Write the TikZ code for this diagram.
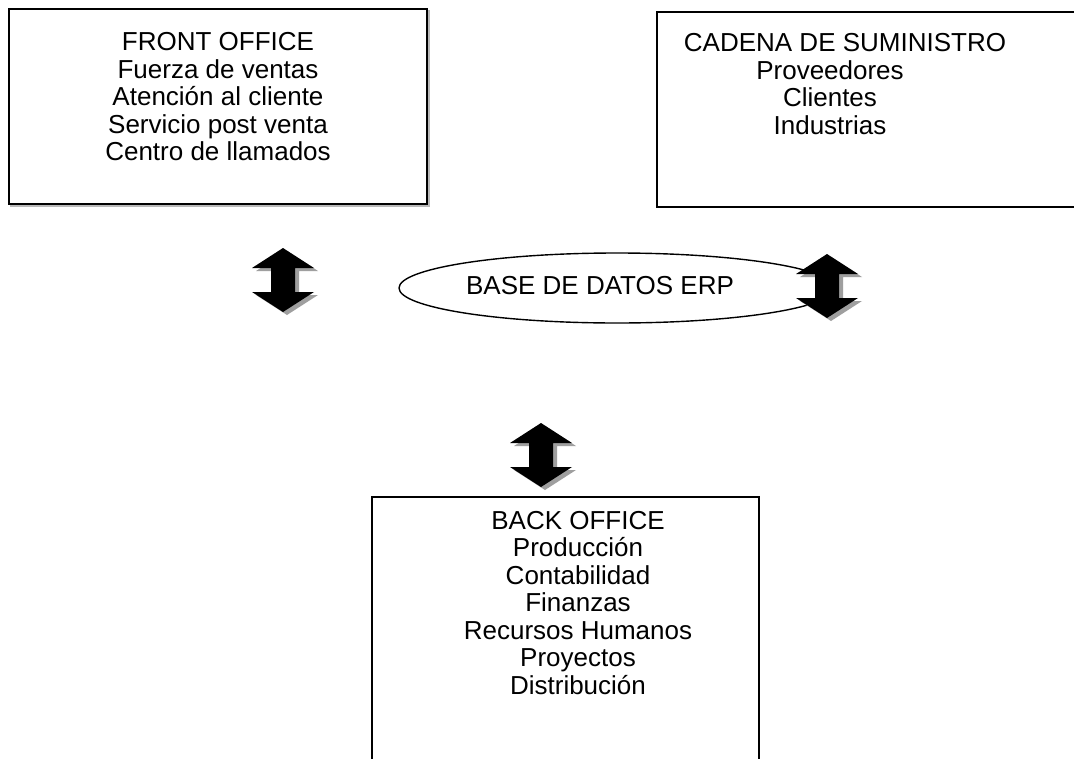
\documentclass[tikz,border=0pt]{standalone}
\usepackage{fontspec}
\setmainfont{Liberation Sans}
\usetikzlibrary{shapes.geometric}

\tikzset{
  box/.style={draw=black, line width=1.8pt},
  boxshade/.style={draw=gray!55, line width=1.8pt},
  label/.style={align=center, inner sep=0pt, font=\fontsize{26}{27.5}\selectfont},
  arrowbody/.style={fill=black},
  arrowshade/.style={fill=gray!75},
}

% vertical double-headed block arrow centred on a named coordinate
\newcommand\dualarrow[1]{%
  \fill[arrowshade, shift={(#1)}, xshift=4pt, yshift=-3pt]
    (0,-32) -- (31,-12) -- (12,-12) -- (12,12) -- (31,12) -- (0,32)
    -- (-31,12) -- (-12,12) -- (-12,-12) -- (-31,-12) -- cycle;
  \fill[arrowbody, shift={(#1)}]
    (0,-32) -- (31,-12) -- (12,-12) -- (12,12) -- (31,12) -- (0,32)
    -- (-31,12) -- (-12,12) -- (-12,-12) -- (-31,-12) -- cycle;
}

\begin{document}
\begin{tikzpicture}[x=1pt, y=-1pt]
  \useasboundingbox (0,0) rectangle (1074,758);
  \clip (0,0) rectangle (1074,758);
  \fill[white] (0,0) rectangle (1074,758);

  % front office box
  \draw[boxshade] (11,11) rectangle (429,206);
  \fill[white] (9,9) rectangle (427,204);
  \draw[box] (9,9) rectangle (427,204);
  \node[label] (front) at (218,97) {FRONT OFFICE\\Fuerza de ventas\\Atención al cliente\\Servicio post venta\\Centro de llamados};

  % supply chain box (runs past the right edge)
  \draw[box] (1090,12) -- (657,12) -- (657,207) -- (1090,207);
  \node[label] (supply) at (830,84) {\hspace*{30pt}CADENA DE SUMINISTRO\\Proveedores\\Clientes\\Industrias};

  % ERP database
  \node[ellipse, draw, line width=1.4pt, minimum width=436pt, minimum height=70pt] (erp) at (617,288) {};
  \node[label] (erptext) at (600,286) {BASE DE DATOS ERP};

  % back office box (runs past the bottom edge)
  \draw[box] (372,780) -- (372,497) -- (759,497) -- (759,780);
  \node[label] (back) at (578,603) {BACK OFFICE\\Producción\\Contabilidad\\Finanzas\\Recursos Humanos\\Proyectos\\Distribución};

  % exchange arrows
  \coordinate (a1) at (283,280);
  \coordinate (a2) at (827,286);
  \coordinate (a3) at (541,455);
  \dualarrow{a1}
  \dualarrow{a2}
  \dualarrow{a3}
\end{tikzpicture}
\end{document}
